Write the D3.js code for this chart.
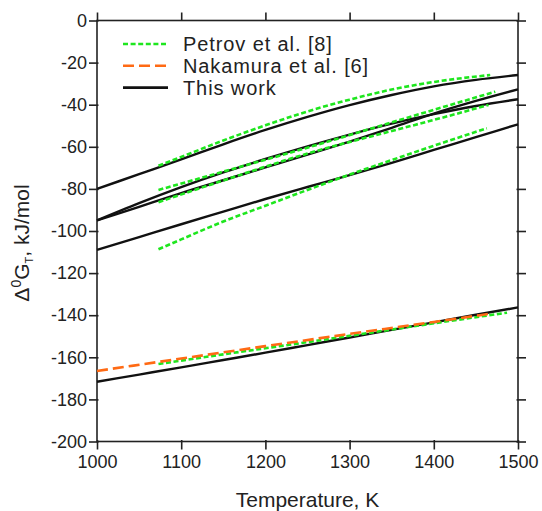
<!DOCTYPE html>
<html>
<head>
<meta charset="utf-8">
<script src="https://cdn.jsdelivr.net/npm/d3@7"></script>
<style>
  body { margin: 0; background: #fff; }
  svg { font-family: "Liberation Sans", Arial, sans-serif; }
</style>
</head>
<body>
<div class="graph"></div>
<script>
// Temperaturas comunes para las curvas de "This work"
const tempsThisWork = [1000, 1050, 1100, 1150, 1200, 1250, 1300, 1350, 1400, 1450, 1500];
const thisWorkA = [-80, -73, -66, -58.8, -52, -45.8, -40.2, -35.4, -31.3, -28.2, -25.9];
const thisWorkB = [-95, -88.5, -82, -75.9, -69.8, -63.7, -57.5, -51, -44.2, -38.2, -32.7];
const thisWorkC = [-95, -86.8, -79.2, -72.2, -65.8, -59.8, -54.2, -49, -44.5, -40.6, -37.4];
const thisWorkD = [-109, -102.9, -96.8, -90.8, -84.8, -79.1, -73.5, -67.6, -61.5, -55.4, -49.3];
const thisWorkE = [-171.6, -168.2, -164.8, -161.3, -157.8, -154.2, -150.6, -147, -143.4, -139.8, -136.3];

// Petrov et al. [8]
const petrov1T = [1073, 1100, 1150, 1200, 1250, 1300, 1350, 1400, 1467];
const petrov1G = [-69, -64.8, -57, -49.8, -43.2, -37.6, -32.8, -29.2, -25.9];
const petrov2T = [1073, 1150, 1250, 1350, 1473];
const petrov2G = [-80.5, -71.8, -60.4, -48.4, -33.8];
const petrov3T = [1073, 1150, 1250, 1350, 1419, 1465];
const petrov3G = [-86.3, -76, -63.2, -52.5, -45.2, -40.1];
const petrov4T = [1073, 1100, 1150, 1200, 1250, 1300, 1350, 1400, 1463];
const petrov4G = [-108.7, -104, -95.5, -88, -80.5, -73.2, -66.3, -59.5, -51.2];
const petrov5T = [1073, 1150, 1250, 1350, 1487];
const petrov5G = [-163.2, -158.6, -152.8, -146.8, -138.8];

// Nakamura et al. [6]
const nakamuraT = [1000, 1100, 1200, 1300, 1400, 1465];
const nakamuraG = [-166.5, -160.6, -154.7, -148.9, -143.2, -139.4];

const xTicks = [1000, 1100, 1200, 1300, 1400, 1500];
const yTicks = [0, -20, -40, -60, -80, -100, -120, -140, -160, -180, -200];
const legendLabels = ["Petrov et al. [8]", "Nakamura et al. [6]", "This work"];

const width = 542, height = 511;
const margin = { top: 20.5, right: 24, bottom: 69.5, left: 97 };
const innerW = width - margin.left - margin.right;
const innerH = height - margin.top - margin.bottom;

const verde = "#1ee61e";
const naranja = "#ff6a14";
const negro = "#111";

const svg = d3.select(".graph").append("svg")
    .attr("width", width)
    .attr("height", height);

const g = svg.append("g").attr("transform", `translate(${margin.left},${margin.top})`);

const xScale = d3.scaleLinear().domain([1000, 1500]).range([0, innerW]);
const yScale = d3.scaleLinear().domain([-200, 0]).range([innerH, 0]);

function zip(ts, gs) {
    return ts.map((t, i) => ({ t: t, g: gs[i] }));
}

const line = d3.line()
    .x(d => xScale(d.t))
    .y(d => yScale(d.g))
    .curve(d3.curveMonotoneX);

// Ejes
const fmt = d => String(d);
const ejeIzq = g.append("g").call(d3.axisLeft(yScale).tickValues(yTicks).tickFormat(fmt).tickSize(8).tickPadding(2));
const ejeInf = g.append("g").attr("transform", `translate(0,${innerH})`)
    .call(d3.axisBottom(xScale).tickValues(xTicks).tickFormat(fmt).tickSize(8).tickPadding(6));
const ejeSup = g.append("g").call(d3.axisTop(xScale).tickValues(xTicks).tickFormat("").tickSize(8));
const ejeDer = g.append("g").attr("transform", `translate(${innerW},0)`)
    .call(d3.axisRight(yScale).tickValues(yTicks).tickFormat("").tickSize(8));

[ejeIzq, ejeInf, ejeSup, ejeDer].forEach(ax => {
    ax.select(".domain").remove();
    ax.selectAll("line").attr("stroke", "#222").attr("stroke-width", 1.6);
    ax.selectAll("text").attr("fill", "#222").style("font-size", "18px");
});
ejeIzq.selectAll(".tick line").attr("x1", 1.5);
ejeDer.selectAll(".tick line").attr("x1", -1.5);
ejeInf.selectAll(".tick line").attr("y1", -1.5);

g.append("rect")
    .attr("width", innerW)
    .attr("height", innerH)
    .attr("fill", "none")
    .attr("stroke", "#222")
    .attr("stroke-width", 1.6);

// Curvas "This work"
[thisWorkA, thisWorkB, thisWorkC, thisWorkD, thisWorkE].forEach(serie => {
    g.append("path")
        .datum(zip(tempsThisWork, serie))
        .attr("d", line)
        .attr("fill", "none")
        .attr("stroke", negro)
        .attr("stroke-width", 2.4);
});

// Curvas de Petrov
[[petrov1T, petrov1G], [petrov2T, petrov2G], [petrov3T, petrov3G], [petrov4T, petrov4G], [petrov5T, petrov5G]].forEach(p => {
    g.append("path")
        .datum(zip(p[0], p[1]))
        .attr("d", line)
        .attr("fill", "none")
        .attr("stroke", verde)
        .attr("stroke-width", 2.6)
        .attr("stroke-dasharray", "5,2.6");
});

// Curva de Nakamura
g.append("path")
    .datum(zip(nakamuraT, nakamuraG))
    .attr("d", line)
    .attr("fill", "none")
    .attr("stroke", naranja)
    .attr("stroke-width", 2.6)
    .attr("stroke-dasharray", "11,5");

// Leyenda
const legendStyles = [
    { color: verde, dash: "5,2.6" },
    { color: naranja, dash: "11,5" },
    { color: negro, dash: null }
];
const legend = svg.append("g").attr("transform", "translate(123,44)");
legendLabels.forEach((lab, i) => {
    const row = legend.append("g").attr("transform", `translate(0,${i * 21.8})`);
    row.append("line")
        .attr("x1", 0).attr("x2", 45)
        .attr("stroke", legendStyles[i].color)
        .attr("stroke-width", 2.6)
        .attr("stroke-dasharray", legendStyles[i].dash);
    row.append("text")
        .attr("x", 60).attr("y", 7)
        .attr("fill", "#222")
        .style("font-size", "20px")
        .style("letter-spacing", "0.9px")
        .text(lab);
});

// Títulos de los ejes
svg.append("text")
    .attr("x", margin.left + innerW / 2)
    .attr("y", 507)
    .attr("text-anchor", "middle")
    .attr("fill", "#222")
    .style("font-size", "21px")
    .text("Temperature, K");

const yTitle = svg.append("text")
    .attr("transform", "translate(29,243) rotate(-90)")
    .attr("text-anchor", "middle")
    .attr("fill", "#222")
    .style("font-size", "21px");
yTitle.append("tspan").text("Δ");
yTitle.append("tspan").attr("dy", -8).style("font-size", "14px").text("0");
yTitle.append("tspan").attr("dy", 8).text("G");
yTitle.append("tspan").attr("dy", 4).style("font-size", "11px").text("T");
yTitle.append("tspan").attr("dy", -4).text(", kJ/mol");
</script>
</body>
</html>
